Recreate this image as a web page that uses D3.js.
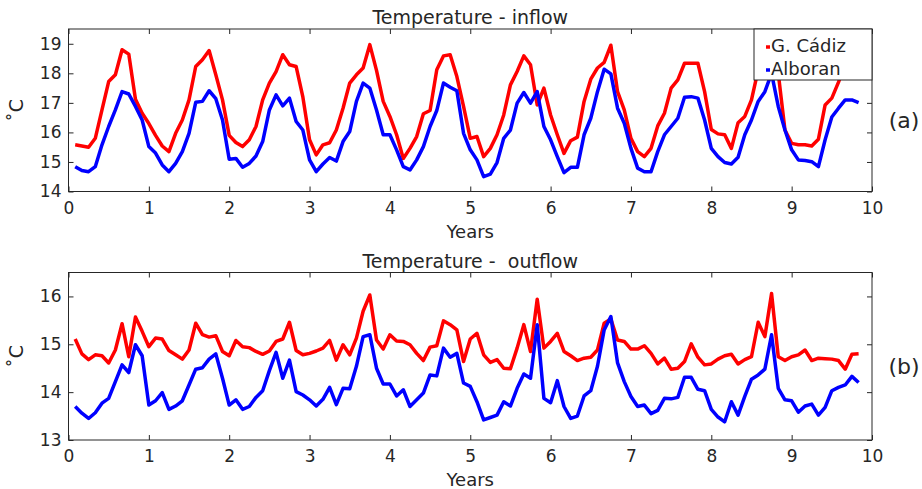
<!DOCTYPE html>
<html>
<head>
<meta charset="utf-8">
<script src="https://d3js.org/d3.v7.min.js"></script>
<style>
  body { margin: 0; background: #fff; }
  text { font-family: "DejaVu Sans", sans-serif; fill: #262626; }
</style>
</head>
<body>
<div id="my_dataviz"></div>
<script>

// monthly values, month 1 .. 118 (x = month / 12 years)
var months = d3.range(1, 119);

var inflowCadiz = [
  15.58, 15.54, 15.50, 15.80, 16.76, 17.72, 17.95, 18.80, 18.65, 17.12, 16.65, 16.30,
  15.90, 15.54, 15.35, 15.97, 16.42, 17.10, 18.23, 18.46, 18.77, 17.95, 17.10, 15.90,
  15.66, 15.52, 15.75, 16.20, 17.10, 17.67, 18.06, 18.63, 18.29, 18.23, 17.20, 15.75,
  15.24, 15.58, 15.65, 16.08, 16.82, 17.67, 17.95, 18.18, 18.97, 18.10, 17.05, 16.54,
  15.92, 15.12, 15.46, 15.86, 16.63, 16.74, 18.12, 18.59, 18.63, 17.89, 16.88, 15.80,
  15.86, 15.18, 15.46, 15.92, 16.59, 17.61, 18.06, 18.59, 18.29, 16.93, 17.50, 16.59,
  15.92, 15.29, 15.72, 15.84, 17.05, 17.80, 18.18, 18.37, 18.95, 17.38, 16.76, 15.80,
  15.35, 15.18, 15.46, 16.22, 16.65, 17.50, 17.78, 18.34, 18.34, 18.34, 17.38, 16.10,
  15.95, 15.92, 15.46, 16.33, 16.54, 17.10, 18.12, 18.70, 19.10, 18.00, 16.08, 15.63,
  15.58, 15.58, 15.54, 15.77, 16.93, 17.16, 17.70, 18.30, 18.70, 18.60
];

var inflowAlboran = [
  14.84, 14.71, 14.67, 14.84, 15.58, 16.20, 16.76, 17.38, 17.30, 16.88, 16.42, 15.52,
  15.30, 14.90, 14.67, 14.95, 15.35, 15.97, 17.02, 17.05, 17.41, 17.14, 16.42, 15.09,
  15.12, 14.82, 14.95, 15.20, 15.69, 16.76, 17.27, 16.90, 17.16, 16.37, 16.08, 15.07,
  14.67, 14.93, 15.15, 15.03, 15.69, 16.03, 17.05, 17.67, 17.50, 16.76, 15.92, 15.92,
  15.41, 14.84, 14.73, 15.07, 15.52, 16.20, 16.74, 17.67, 17.53, 17.41, 15.97, 15.41,
  15.07, 14.50, 14.59, 14.98, 15.80, 16.08, 16.99, 17.35, 16.99, 17.38, 16.20, 15.75,
  15.18, 14.64, 14.82, 14.82, 15.92, 16.48, 17.38, 18.14, 17.98, 16.82, 16.31, 15.46,
  14.79, 14.67, 14.67, 15.35, 15.92, 16.20, 16.48, 17.19, 17.21, 17.16, 16.42, 15.46,
  15.18, 14.98, 14.93, 15.16, 15.92, 16.42, 17.05, 17.38, 18.00, 16.88, 16.08, 15.41,
  15.07, 15.05, 15.01, 14.84, 15.75, 16.52, 16.82, 17.10, 17.10, 17.01
];

var outflowCadiz = [
  15.11, 14.80, 14.68, 14.78, 14.76, 14.61, 14.88, 15.43, 14.74, 15.57, 15.27, 14.95,
  15.13, 15.11, 14.87, 14.78, 14.69, 14.88, 15.44, 15.20, 15.15, 15.18, 14.85, 14.76,
  15.08, 14.95, 14.93, 14.85, 14.79, 14.86, 15.06, 15.11, 15.46, 14.87, 14.78, 14.81,
  14.86, 14.92, 15.08, 14.67, 14.99, 14.78, 15.13, 15.69, 16.03, 15.09, 14.90, 15.20,
  15.07, 15.06, 14.99, 14.81, 14.66, 14.94, 14.97, 15.49, 15.41, 15.30, 14.64, 15.11,
  15.23, 14.78, 14.62, 14.68, 14.50, 14.49, 14.92, 15.41, 14.85, 15.94, 14.92, 15.06,
  15.23, 14.85, 14.76, 14.66, 14.71, 14.73, 14.88, 15.44, 15.53, 15.09, 15.06, 14.90,
  14.90, 14.97, 14.81, 14.59, 14.71, 14.48, 14.50, 14.64, 15.01, 14.73, 14.57, 14.59,
  14.69, 14.76, 14.79, 14.59, 14.68, 14.74, 15.46, 15.16, 16.06, 14.74, 14.66, 14.74,
  14.78, 14.88, 14.66, 14.71, 14.70, 14.69, 14.66, 14.48, 14.79, 14.80
];

var outflowAlboran = [
  13.70, 13.56, 13.45, 13.57, 13.77, 13.87, 14.22, 14.57, 14.41, 14.99, 14.76, 13.73,
  13.82, 13.99, 13.64, 13.71, 13.82, 14.15, 14.48, 14.51, 14.69, 14.80, 14.29, 13.73,
  13.84, 13.64, 13.70, 13.89, 14.03, 14.45, 14.83, 14.29, 14.67, 14.01, 13.94, 13.84,
  13.71, 13.85, 14.10, 13.74, 14.08, 14.07, 14.54, 15.16, 15.20, 14.50, 14.17, 14.17,
  13.92, 14.05, 13.70, 13.84, 13.98, 14.36, 14.34, 14.92, 14.73, 14.81, 14.19, 14.12,
  13.80, 13.42, 13.47, 13.52, 13.80, 13.71, 14.08, 14.38, 14.29, 15.41, 13.87, 13.78,
  14.24, 13.70, 13.45, 13.50, 13.92, 14.03, 14.54, 15.30, 15.58, 14.61, 14.22, 13.91,
  13.70, 13.73, 13.55, 13.62, 13.87, 13.86, 13.89, 14.31, 14.31, 14.06, 14.03, 13.64,
  13.48, 13.38, 13.80, 13.52, 13.91, 14.27, 14.36, 14.48, 15.20, 14.08, 13.84, 13.82,
  13.58, 13.71, 13.75, 13.52, 13.68, 14.03, 14.10, 14.15, 14.33, 14.20
];

var xTicks = [0, 1, 2, 3, 4, 5, 6, 7, 8, 9, 10];
var yTicksIn = [14, 15, 16, 17, 18, 19];
var yTicksOut = [13, 14, 15, 16];
var seriesNames = ["G. Cádiz", "Alboran"];
var seriesColors = ["#ff0000", "#0000ff"];

var W = 922, H = 489;

var svg = d3.select("#my_dataviz")
  .append("svg")
    .attr("width", W)
    .attr("height", H);

var x = d3.scaleLinear().domain([0, 10]).range([68.5, 872]);

// draw one panel
function panel(opt) {
  var y = d3.scaleLinear().domain(opt.ydom).range([opt.bottom, opt.top]);
  var g = svg.append("g");
  var ht = opt.bottom - opt.top;

  // lines
  var line = d3.line()
    .x(function(d, i) { return x(months[i] / 12); })
    .y(function(d) { return y(d); });

  g.append("defs").append("clipPath").attr("id", opt.id)
    .append("rect")
      .attr("x", x(0)).attr("y", opt.top)
      .attr("width", x(10) - x(0)).attr("height", ht);

  opt.series.forEach(function(s, k) {
    g.append("path")
      .datum(s)
      .attr("clip-path", "url(#" + opt.id + ")")
      .attr("fill", "none")
      .attr("stroke", seriesColors[k])
      .attr("stroke-width", 3.5)
      .attr("stroke-linejoin", "round")
      .attr("d", line);
  });

  // axes, ticks inward on all four sides
  var xb = g.append("g")
    .attr("transform", "translate(0," + opt.bottom + ")")
    .call(d3.axisBottom(x).tickValues(xTicks).tickSize(-5).tickPadding(10).tickFormat(d3.format("d")));
  var xt = g.append("g")
    .attr("transform", "translate(0," + opt.top + ")")
    .call(d3.axisTop(x).tickValues(xTicks).tickSize(-5).tickFormat(""));
  var yl = g.append("g")
    .attr("transform", "translate(" + x(0) + ",0)")
    .call(d3.axisLeft(y).tickValues(opt.yticks).tickSize(-5).tickPadding(7).tickFormat(d3.format("d")));
  var yr = g.append("g")
    .attr("transform", "translate(" + x(10) + ",0)")
    .call(d3.axisRight(y).tickValues(opt.yticks).tickSize(-5).tickFormat(""));

  [xb, xt, yl, yr].forEach(function(a) {
    a.select(".domain").remove();
    a.selectAll("line").attr("stroke", "#262626");
    a.selectAll("text")
      .style("font-family", "DejaVu Sans")
      .style("font-size", "17px")
      .attr("fill", "#262626");
  });

  // box
  g.append("rect")
    .attr("x", x(0)).attr("y", opt.top)
    .attr("width", x(10) - x(0)).attr("height", ht)
    .attr("fill", "none")
    .attr("stroke", "#262626")
    .attr("stroke-width", 1);

  // title
  g.append("text")
    .attr("x", (x(0) + x(10)) / 2)
    .attr("y", opt.top - 5)
    .attr("text-anchor", "middle")
    .style("font-size", "19px")
    .style("white-space", "pre")
    .text(opt.title);

  // x label
  g.append("text")
    .attr("x", (x(0) + x(10)) / 2)
    .attr("y", opt.bottom + 46)
    .attr("text-anchor", "middle")
    .style("font-size", "18px")
    .text("Years");

  // y label
  g.append("text")
    .attr("transform", "translate(23," + ((opt.top + opt.bottom) / 2) + ") rotate(-90)")
    .attr("text-anchor", "middle")
    .style("font-size", "19px")
    .text("˚C");

  // panel letter
  g.append("text")
    .attr("x", 904)
    .attr("y", (opt.top + opt.bottom) / 2 + 18)
    .attr("text-anchor", "middle")
    .style("font-size", "22px")
    .attr("fill", "#000")
    .text(opt.letter);

  return g;
}

panel({
  id: "clipA", top: 29, bottom: 191.5, ydom: [14, 19.5], yticks: yTicksIn,
  series: [inflowCadiz, inflowAlboran], title: "Temperature - inflow", letter: "(a)"
});

panel({
  id: "clipB", top: 272.5, bottom: 440, ydom: [13, 16.5], yticks: yTicksOut,
  series: [outflowCadiz, outflowAlboran], title: "Temperature -  outflow", letter: "(b)"
});

// legend (top panel, top right corner)
var leg = svg.append("g");
leg.append("rect")
  .attr("x", 754).attr("y", 29)
  .attr("width", 872 - 754).attr("height", 51)
  .attr("fill", "#fff")
  .attr("stroke", "#262626")
  .attr("stroke-width", 1);

seriesNames.forEach(function(name, k) {
  var cy = 45 + k * 23;
  leg.append("line")
    .attr("x1", 766).attr("x2", 770)
    .attr("y1", cy + 2).attr("y2", cy + 2)
    .attr("stroke", seriesColors[k])
    .attr("stroke-width", 3.5);
  leg.append("text")
    .attr("x", 771)
    .attr("y", cy + 6.5)
    .style("font-size", "18px")
    .attr("fill", "#000")
    .text(name);
});

</script>
</body>
</html>
